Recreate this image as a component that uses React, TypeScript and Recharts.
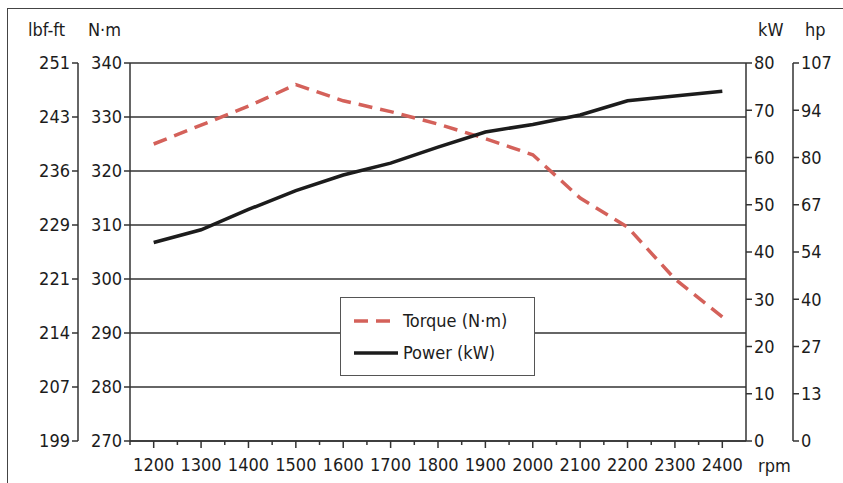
import { ComposedChart, Line, XAxis, YAxis, CartesianGrid } from "recharts";

const rpm = ["1200", "1300", "1400", "1500", "1600", "1700", "1800", "1900", "2000", "2100", "2200", "2300", "2400"];
const torqueNm = [325, 328.5, 332, 336, 333, 331, 328.7, 326, 323, 315, 309.6, 300, 293];
const powerKw = [42, 44.7, 49, 53, 56.3, 58.8, 62.2, 65.4, 67, 69, 72, 73, 74];

const nmTicks = [270, 280, 290, 300, 310, 320, 330, 340];
const lbfLabels = ["199", "207", "214", "221", "229", "236", "243", "251"];
const kwTicks = [0, 10, 20, 30, 40, 50, 60, 70, 80];
const hpLabels = ["0", "13", "27", "40", "54", "67", "80", "94", "107"];

// axes sit outward in id order, so the inner ones get the "a" ids
const NM = "a-nm";
const LBF = "b-lbf";
const KW = "a-kw";
const HP = "b-hp";

const FONT = '"Liberation Sans Narrow", "DejaVu Sans Condensed", "DejaVu Sans", sans-serif';
const INK = "#1c1c1c";
const LINE = "#333";
const TORQUE = "#d4615a";

const tickStyle = { fontSize: 18, fill: INK, fontFamily: FONT, fontStretch: "condensed" };

const chartData = rpm.map((r, i) => ({ rpm: r, torque: torqueNm[i], power: powerKw[i] }));

// half a category band, for the small ticks between categories
const HALF_BAND = (746 - 130) / 13 / 2;

function RpmTick(props: any) {
  const { x, y, payload } = props;
  return (
    <g>
      <line x1={x - HALF_BAND} y1={y - 9} x2={x - HALF_BAND} y2={y - 5} stroke={LINE} strokeWidth={1.5} />
      <text x={x} y={y + 21} textAnchor="middle" fontSize={18} fontFamily={FONT} fill={INK} style={{ fontStretch: "condensed" }}>
        {payload.value}
      </text>
    </g>
  );
}

const titleStyle: React.CSSProperties = {
  position: "absolute",
  fontFamily: FONT,
  fontStretch: "condensed",
  fontSize: 18,
  color: INK,
  lineHeight: "20px",
};

function LegendBox() {
  return (
    <div
      style={{
        position: "absolute",
        left: 340,
        top: 297,
        width: 193,
        height: 77,
        border: "1.5px solid #555",
        background: "#fff",
        fontFamily: FONT,
        fontStretch: "condensed",
        fontSize: 18,
        color: INK,
      }}
    >
      <svg width={60} height={77} style={{ position: "absolute", left: 0, top: 0 }}>
        <line x1={13} y1={23} x2={57} y2={23} stroke={TORQUE} strokeWidth={3.5} strokeDasharray="14 8" />
        <line x1={13} y1={55} x2={57} y2={55} stroke={INK} strokeWidth={3.5} />
      </svg>
      <div style={{ position: "absolute", left: 62, top: 12, lineHeight: "22px" }}>Torque (N·m)</div>
      <div style={{ position: "absolute", left: 62, top: 44, lineHeight: "22px" }}>Power (kW)</div>
    </div>
  );
}

export default function App() {
  return (
    <div style={{ position: "absolute", left: 0, top: 0, width: 843, height: 483, overflow: "hidden", background: "#fff" }}>
      <div style={{ position: "absolute", left: 7, top: 8, width: 1000, height: 1000, border: "1.5px solid #444" }} />
      <ComposedChart
        width={843}
        height={483}
        data={chartData}
        margin={{ top: 63, right: 10, bottom: 12, left: 18 }}
        style={{ position: "absolute", left: 0, top: 0 }}
      >
        <CartesianGrid yAxisId={NM} vertical={false} stroke={LINE} strokeWidth={1.5} />
        <XAxis
          dataKey="rpm"
          scale="band"
          height={30}
          tick={<RpmTick />}
          tickSize={7}
          stroke={LINE}
          strokeWidth={1.5}
          interval={0}
        />
        <YAxis
          yAxisId={NM}
          orientation="left"
          width={52}
          domain={[270, 340]}
          ticks={nmTicks}
          tick={tickStyle}
          stroke={LINE}
          strokeWidth={1.5}
          interval={0}
        />
        <YAxis
          yAxisId={LBF}
          orientation="left"
          width={60}
          domain={[270, 340]}
          ticks={nmTicks}
          tickFormatter={(_v: number, i: number) => lbfLabels[i]}
          tick={tickStyle}
          stroke={LINE}
          strokeWidth={1.5}
          interval={0}
        />
        <YAxis
          yAxisId={KW}
          orientation="right"
          width={47}
          domain={[0, 80]}
          ticks={kwTicks}
          tick={tickStyle}
          stroke={LINE}
          strokeWidth={1.5}
          interval={0}
        />
        <YAxis
          yAxisId={HP}
          orientation="right"
          width={40}
          domain={[0, 80]}
          ticks={kwTicks}
          tickFormatter={(_v: number, i: number) => hpLabels[i]}
          tick={tickStyle}
          stroke={LINE}
          strokeWidth={1.5}
          interval={0}
        />
        {/* invisible series so the converted-unit axes get a scale */}
        <Line yAxisId={LBF} dataKey="torque" stroke="none" dot={false} activeDot={false} isAnimationActive={false} />
        <Line yAxisId={HP} dataKey="power" stroke="none" dot={false} activeDot={false} isAnimationActive={false} />
        <Line
          yAxisId={NM}
          type="linear"
          dataKey="torque"
          stroke={TORQUE}
          strokeWidth={3.5}
          strokeDasharray="14 8"
          dot={false}
          isAnimationActive={false}
        />
        <Line
          yAxisId={KW}
          type="linear"
          dataKey="power"
          stroke={INK}
          strokeWidth={3.5}
          dot={false}
          isAnimationActive={false}
        />
      </ComposedChart>
      <div style={{ ...titleStyle, left: 28, top: 20 }}>lbf-ft</div>
      <div style={{ ...titleStyle, left: 88, top: 20 }}>N·m</div>
      <div style={{ ...titleStyle, left: 758, top: 20 }}>kW</div>
      <div style={{ ...titleStyle, left: 805, top: 20 }}>hp</div>
      <div style={{ ...titleStyle, left: 758, top: 456 }}>rpm</div>
      <LegendBox />
    </div>
  );
}
